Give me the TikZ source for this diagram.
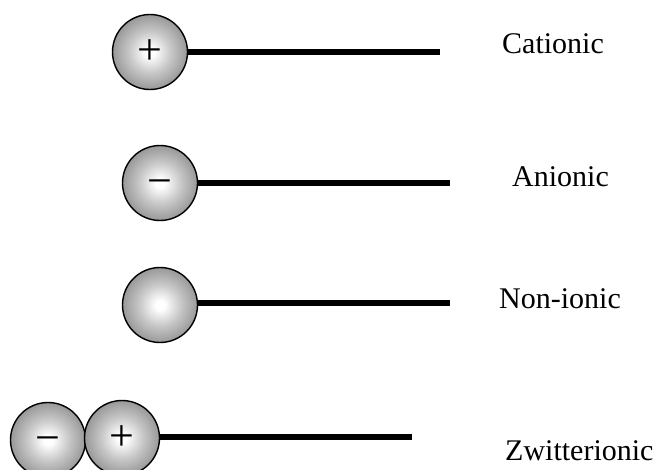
\documentclass[tikz,border=0pt]{standalone}
\usepackage{fontspec}
\setmainfont{Liberation Serif}
% white core fading to mid grey at the rim of the head group
% (the rim of a circle lies at about 35bp of the shading square)
\pgfdeclareradialshading{headshade}{\pgfpoint{0bp}{0bp}}{%
  color(0bp)=(white); color(3bp)=(white); color(14bp)=(black!22);
  color(26bp)=(black!42); color(35bp)=(black!56); color(50bp)=(black!56)}
\begin{document}
\begin{tikzpicture}[x=1pt,y=-1pt,
  head/.style={circle,draw=black,line width=1.4pt,minimum size=75pt,inner sep=0pt,
    shading=headshade},
  tail/.style={line width=6pt},
  charge/.style={font=\fontsize{44}{44}\selectfont,inner sep=0pt},
  label/.style={font=\fontsize{30}{30}\selectfont,anchor=base west,inner sep=0pt}]
\useasboundingbox (0,0) rectangle (664,469);
% Cationic
\node[head] (h1) at (150,52) {};
\node[charge] (c1) at (h1) {+};
\coordinate (t1) at (440,52);
\draw[tail] (h1.east) -- (t1);
\node[label] (l1) at (502,53) {Cationic};
% Anionic
\node[head] (h2) at (160,183) {};
\node[charge,yshift=-5pt] (c2) at (h2) {−};
\coordinate (t2) at (450,183);
\draw[tail] (h2.east) -- (t2);
\node[label] (l2) at (512,186) {Anionic};
% Non-ionic
\node[head] (h3) at (160,305) {};
\coordinate (t3) at (450,303);
\draw[tail] (h3.east |- t3) -- (t3);
\node[label] (l3) at (499,308) {Non-ionic};
% Zwitterionic
\node[head] (h4) at (48,440) {};
\node[charge,yshift=-5pt] (c4) at (h4) {−};
\node[head] (h5) at (122,438) {};
\node[charge] (c5) at (h5) {+};
\coordinate (t5) at (412,437);
\draw[tail] (h5.east |- t5) -- (t5);
\node[label] (l4) at (505,460) {Zwitterionic};
\end{tikzpicture}
\end{document}
